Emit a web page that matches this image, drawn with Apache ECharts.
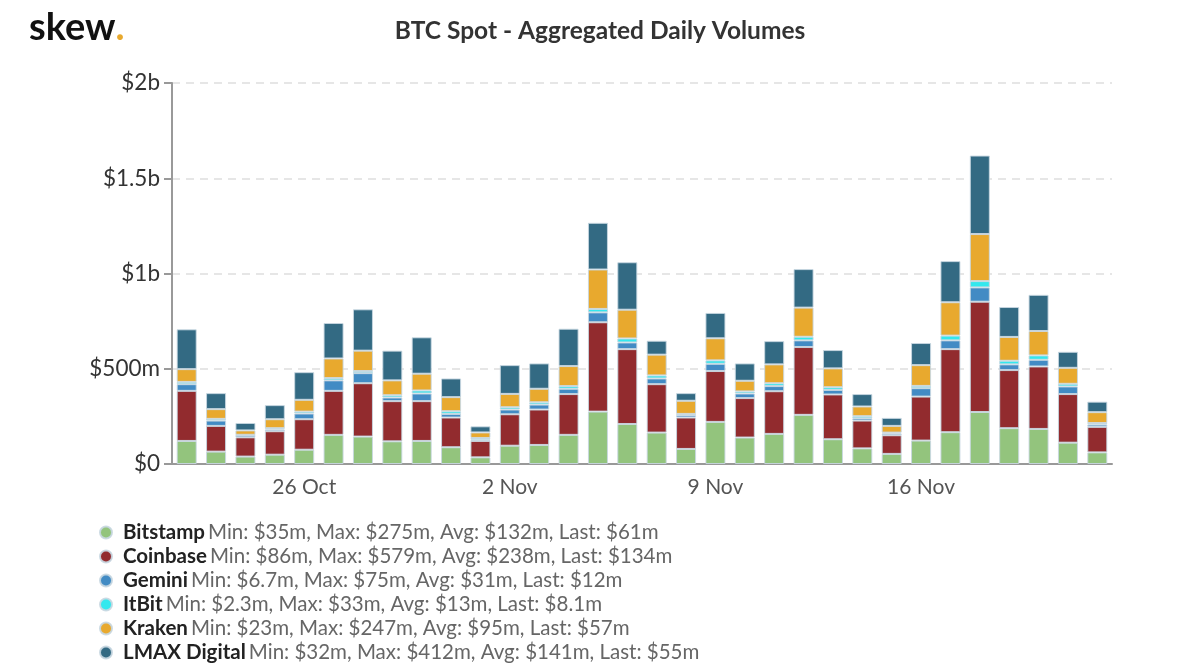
<!DOCTYPE html>
<html><head><meta charset="utf-8">
<script src="https://cdn.jsdelivr.net/npm/echarts@6/dist/echarts.min.js"></script>
<style>html,body{margin:0;padding:0;background:#fff}#c{width:1200px;height:670px}</style>
</head><body><div id="c"></div>
<script>
const categories = ['22 Oct','23 Oct','24 Oct','25 Oct','26 Oct','27 Oct','28 Oct','29 Oct','30 Oct','31 Oct','1 Nov','2 Nov','3 Nov','4 Nov','5 Nov','6 Nov','7 Nov','8 Nov','9 Nov','10 Nov','11 Nov','12 Nov','13 Nov','14 Nov','15 Nov','16 Nov','17 Nov','18 Nov','19 Nov','20 Nov','21 Nov','22 Nov'];
const bitstamp = [121,65,39,49,75,153,144,119,121,88,35,96,100,153,275,210,165,79,221,139,158,258,130,82,53,123,167,273,188,184,112,61];
const coinbase = [263,135,101,123,160,231,280,211,209,156,86,165,186,214,469,393,254,165,267,207,224,356,235,146,98,231,436,579,305,328,255,134];
const gemini   = [35,28,11,9,30,55,53,19,40,19,6.7,25,26,28,52,35,30,12,38,24,27,35,24,12,9,44,46,75,30,35,40,12];
const itbit    = [12,9,2.3,7,10,12,11,12,16,14,9,12,12,14,18,21,16,7,18,11,15,19,14,11,5,12,25,33,19,23,14,8.1];
const kraken   = [67,51,23,47,62,103,107,78,88,74,29,70,71,105,207,151,109,69,116,56,99,153,99,51,35,109,175,247,125,128,84,57];
const lmax     = [209,84,39,74,145,186,217,156,191,98,32,151,133,196,245,249,73,40,133,91,122,202,96,65,42,116,216,412,157,190,84,55];
const seriesNames = ['Bitstamp','Coinbase','Gemini','ItBit','Kraken','LMAX Digital'];
const seriesStats = [
  'Min: $35m, Max: $275m, Avg: $132m, Last: $61m',
  'Min: $86m, Max: $579m, Avg: $238m, Last: $134m',
  'Min: $6.7m, Max: $75m, Avg: $31m, Last: $12m',
  'Min: $2.3m, Max: $33m, Avg: $13m, Last: $8.1m',
  'Min: $23m, Max: $247m, Avg: $95m, Last: $57m',
  'Min: $32m, Max: $412m, Avg: $141m, Last: $55m'
];
const yTicks = {0:'$0',500:'$500m',1000:'$1b',1500:'$1.5b',2000:'$2b'};
const labelIdx = [4,11,18,25];
const colors = ['#93c47d','#922b2e','#428bc4','#33e8ee','#e8a92e','#336a83'];
const seriesData = [bitstamp,coinbase,gemini,itbit,kraken,lmax];

const chart = echarts.init(document.getElementById('c'));
const FONT = 'Lato';
chart.setOption({
  animation:false,
  textStyle:{fontFamily:FONT},
  color:colors,
  title:{text:'BTC Spot - Aggregated Daily Volumes',left:'center',top:14,
    textStyle:{fontFamily:FONT,fontSize:24.5,fontWeight:'bold',color:'#333'}},
  graphic:[{type:'text',left:29,top:9,style:{text:'{a|skew}{b|.}',rich:{
    a:{fontFamily:FONT,fontSize:38,fontWeight:'bold',fill:'#111'},
    b:{fontFamily:FONT,fontSize:38,fontWeight:'bold',fill:'#e8a92e'}}}}],
  grid:{left:172,right:88,top:83,bottom:206,containLabel:false},
  legend:{orient:'vertical',left:94,top:517,itemGap:3,itemWidth:12,itemHeight:12,icon:'circle',
    data:seriesNames,
    formatter:function(n){const i=seriesNames.indexOf(n);return '{n|'+n+'} {s|'+seriesStats[i]+'}';},
    textStyle:{rich:{n:{fontFamily:FONT,fontSize:20.5,fontWeight:'bold',color:'#222',padding:[0,0,0,6]},
      s:{fontFamily:FONT,fontSize:20.5,color:'#666'}}}},
  xAxis:{type:'category',data:categories,
    axisLine:{lineStyle:{color:'#999',width:2}},
    axisTick:{alignWithLabel:true,length:8,lineStyle:{color:'#999',width:2},interval:function(i){return labelIdx.indexOf(i)>=0;}},
    axisLabel:{interval:function(i){return labelIdx.indexOf(i)>=0;},fontSize:21,color:'#555',margin:13}},
  yAxis:{type:'value',min:0,max:2000,interval:500,
    axisLine:{show:true,lineStyle:{color:'#999',width:2}},
    axisTick:{show:true,length:8,lineStyle:{color:'#999',width:2}},
    splitLine:{lineStyle:{color:'#e6e6e6',type:[8,6],width:2}},
    axisLabel:{formatter:function(v){return yTicks[v];},fontSize:22.5,color:'#333',margin:12}},
  series:seriesNames.map(function(n,i){return {name:n,type:'bar',stack:'v',barWidth:20,
    data:seriesData[i],itemStyle:{color:colors[i],borderColor:'rgba(200,215,225,0.9)',borderWidth:1}};})
});
</script></body></html>
